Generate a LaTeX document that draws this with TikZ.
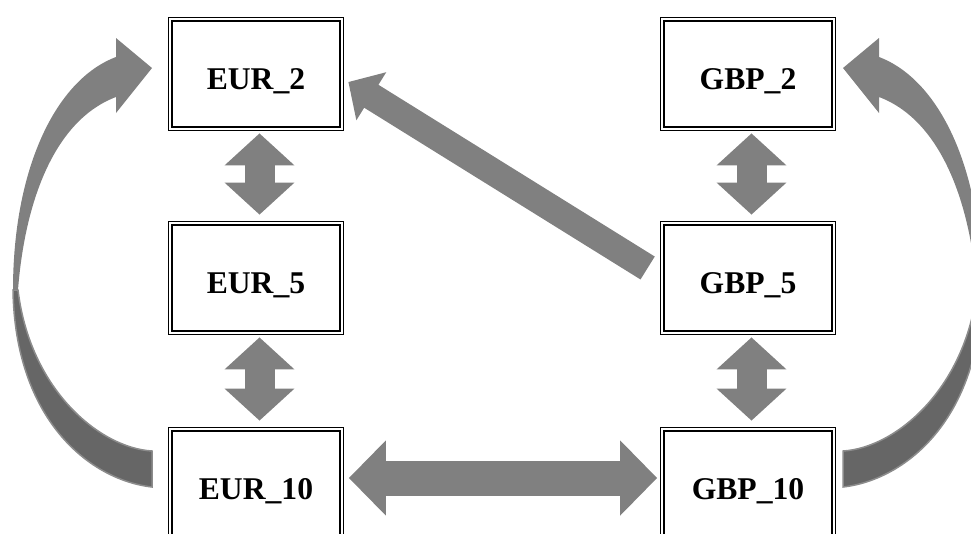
\documentclass[tikz,border=0pt]{standalone}
\usepackage{fontspec}
\setmainfont{Liberation Serif}
\usetikzlibrary{arrows.meta}
\definecolor{arrowgray}{HTML}{808080}
\definecolor{backgray}{HTML}{666666}
\definecolor{rimgray}{HTML}{8C8C8C}

\begin{document}
\begin{tikzpicture}[
    % GLOBAL CFG
    x=0.2mm, y=-0.2mm,
    font=\bfseries\fontsize{18}{20}\selectfont,
    % Styles
    account/.style={% For the currency boxes
        rectangle,
        draw,
        line width=0.55mm,
        minimum width=33.6mm,
        minimum height=21.2mm,
        inner sep=0pt,
        text height=6mm,
        text depth=0pt,
        },
    rim/.style={% Thin outer line round the boxes
        line width=0.2mm,
        },
    vlink/.style={% Short up-down block arrows
        color=arrowgray,
        line width=6mm,
        {Triangle[length=6.4mm,width=13.6mm]}-{Triangle[length=6.4mm,width=13.6mm]},
        shorten <=1mm,
        shorten >=1.8mm,
        },
    hlink/.style={% Long left-right block arrow
        color=arrowgray,
        line width=7mm,
        {Triangle[length=7.4mm,width=14.6mm]}-{Triangle[length=7.4mm,width=14.6mm]},
        shorten <=1.5mm,
        shorten >=1.1mm,
        },
    dlink/.style={% Slanted block arrow
        color=arrowgray,
        line width=5.4mm,
        -{Triangle[length=5.4mm,width=11mm]},
        },
    ]

    \useasboundingbox (0,0) rectangle (971,533);

    % Draw the currency boxes
    \node [account] (eur2) at (256,74) {EUR\_2};
    \node [account] (eur5) at (256,278) {EUR\_5};
    \node [account] (eur10) at (256,484) {EUR\_10};
    \node [account] (gbp2) at (748,74) {GBP\_2};
    \node [account] (gbp5) at (748,278) {GBP\_5};
    \node [account] (gbp10) at (748,484) {GBP\_10};

    % Thin outer lines
    \foreach \n in {eur2,eur5,eur10,gbp2,gbp5,gbp10}
        \draw [rim] ([shift={(-2,-2)}]\n.north west) rectangle ([shift={(2,2)}]\n.south east);

    % Up-down arrows
    \foreach \a/\b in {eur2/eur5, eur5/eur10, gbp2/gbp5, gbp5/gbp10}
        \draw [vlink] ([xshift=0.7mm]\a.south) -- ([xshift=0.7mm]\b.north);

    % Across and slanted arrows
    \draw [hlink] ([yshift=1.2mm]eur10.east) -- ([yshift=1.2mm]gbp10.west);
    \draw [dlink] ([shift={(-15,-10)}]gbp5.west) -- ([shift={(7,8)}]eur2.east);

    % Curved arrows on both sides, the right one mirrored
    \foreach \sx/\dx in {1/0, -1/995}{
        \begin{scope}[shift={(\dx,0)}, xscale=\sx]
            % back face near the tail
            \fill [backgray, draw=rimgray, line width=0.3mm] (13,290)
                .. controls (15,420) and (90,480) .. (152,487) -- (152,451)
                .. controls (100,448) and (30,390) .. (18,290) -- cycle;
            % front face with the head
            \fill [arrowgray] (13,290)
                .. controls (13,170) and (55,80) .. (116,57)
                -- (116,38) -- (152,68) -- (116,113) -- (116,97)
                .. controls (55,120) and (25,200) .. (18,290) -- cycle;
        \end{scope}
    }

\end{tikzpicture}
\end{document}
